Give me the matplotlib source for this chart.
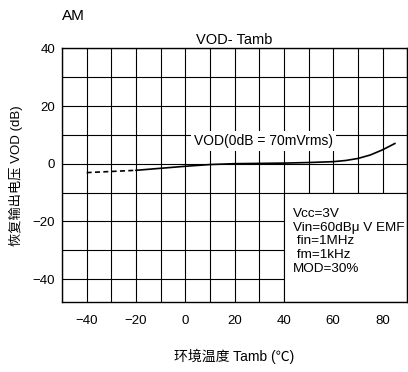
import matplotlib.pyplot as plt
from matplotlib.patches import Rectangle

plt.rcParams['font.family'] = ['Liberation Sans', 'Noto Sans CJK SC', 'DejaVu Sans']

# dashed part (low temperatures)
t_dash = [-40, -30, -20]
v_dash = [-3.1, -2.7, -2.3]
# solid part
t_sol = [-20, -10, 0, 10, 20, 30, 40, 50, 60, 65, 70, 75, 80, 85]
v_sol = [-2.3, -1.6, -0.9, -0.3, 0.0, 0.1, 0.2, 0.4, 0.7, 1.1, 1.8, 3.0, 4.8, 7.0]

xticks = [-40, -20, 0, 20, 40, 60, 80]
yticks = [-40, -20, 0, 20, 40]
cond = ['Vcc=3V', 'Vin=60dB\u03bc V EMF', ' fin=1MHz', ' fm=1kHz', 'MOD=30%']

fig = plt.figure(figsize=(4.08, 3.72), dpi=100)
ax = fig.add_axes([0.152, 0.188, 0.846, 0.682])

ax.set_xlim(-50, 90)
ax.set_ylim(-48, 40)
ax.set_xticks(xticks)
ax.set_yticks(yticks)
ax.set_xticks(range(-50, 91, 10), minor=True)
ax.set_yticks(range(-40, 41, 10), minor=True)
ax.tick_params(which='both', length=0, labelsize=9.5)
ax.tick_params(axis='x', pad=9)
ax.tick_params(axis='y', pad=5)
ax.grid(which='both', color='black', lw=0.8)
ax.set_axisbelow(True)
for s in ax.spines.values():
    s.set_color('black')
    s.set_linewidth(1.0)

# white box for conditions, covering the grid
ax.add_patch(Rectangle((40, -48), 50, 38, facecolor='white', edgecolor='black',
                       lw=0.8, zorder=1))

ax.plot(t_dash, v_dash, color='black', lw=1.2, ls=(0, (3, 2)), zorder=3)
ax.plot(t_sol, v_sol, color='black', lw=1.2, zorder=3)

ax.text(3.5, 7.8, 'VOD(0dB = 70mVrms)', fontsize=10, va='center', ha='left',
        bbox=dict(facecolor='white', edgecolor='none', pad=2), zorder=2)

ax.text(43.5, -15.3, '\n'.join(cond), fontsize=9.7, va='top', ha='left',
        linespacing=1.2, zorder=2)

ax.set_title('VOD- Tamb', fontsize=10.5, pad=3)
fig.text(62 / 408, 1 - 16 / 372, 'AM', fontsize=11, va='center', ha='left')
ax.set_ylabel('恢复输出电压 VOD (dB)', fontsize=9.5)
ax.yaxis.set_label_coords(-0.113, 0.5)
ax.set_xlabel('环境温度 Tamb (℃)', fontsize=10, labelpad=16)

fig.savefig('out.png', dpi=100)
